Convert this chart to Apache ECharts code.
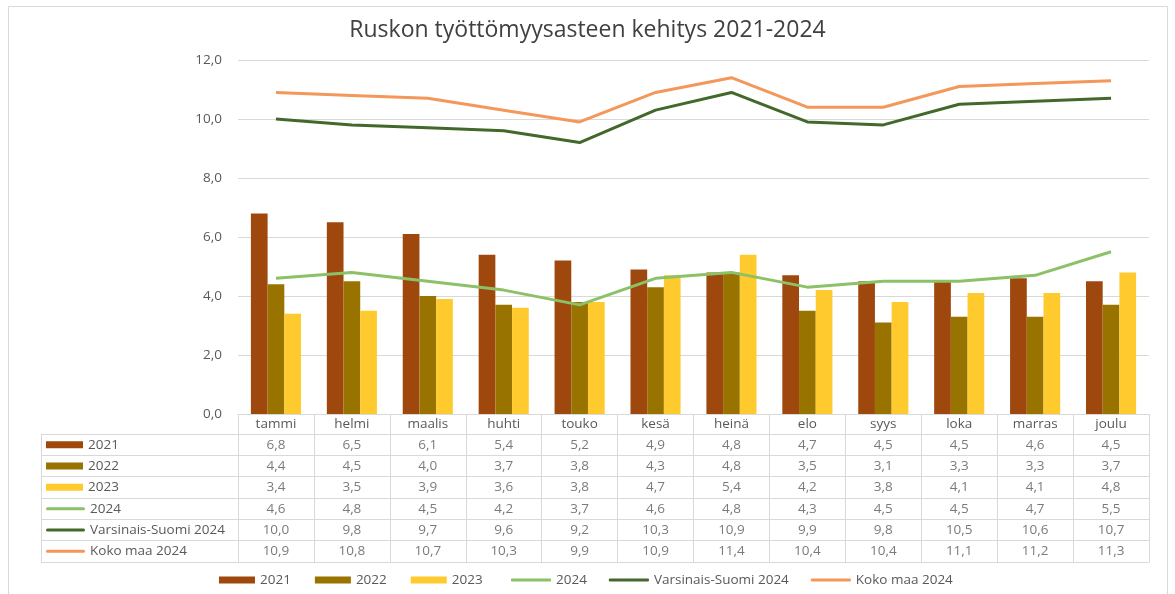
<!DOCTYPE html>
<html>
<head>
<meta charset="utf-8">
<script src="https://cdn.jsdelivr.net/npm/echarts@6/dist/echarts.min.js"></script>
<style>
  html, body { margin: 0; padding: 0; background: #fff; }
  #chart { width: 1175px; height: 594px; }
</style>
</head>
<body>
<div id="chart"></div>
<script>
// kuukaudet
const months = ['tammi', 'helmi', 'maalis', 'huhti', 'touko', 'kesä', 'heinä', 'elo', 'syys', 'loka', 'marras', 'joulu'];

const v2021 = [6.8, 6.5, 6.1, 5.4, 5.2, 4.9, 4.8, 4.7, 4.5, 4.5, 4.6, 4.5];
const v2022 = [4.4, 4.5, 4.0, 3.7, 3.8, 4.3, 4.8, 3.5, 3.1, 3.3, 3.3, 3.7];
const v2023 = [3.4, 3.5, 3.9, 3.6, 3.8, 4.7, 5.4, 4.2, 3.8, 4.1, 4.1, 4.8];
const v2024 = [4.6, 4.8, 4.5, 4.2, 3.7, 4.6, 4.8, 4.3, 4.5, 4.5, 4.7, 5.5];
const varsinaisSuomi = [10.0, 9.8, 9.7, 9.6, 9.2, 10.3, 10.9, 9.9, 9.8, 10.5, 10.6, 10.7];
const kokoMaa = [10.9, 10.8, 10.7, 10.3, 9.9, 10.9, 11.4, 10.4, 10.4, 11.1, 11.2, 11.3];

const rowNames = ['2021', '2022', '2023', '2024', 'Varsinais-Suomi 2024', 'Koko maa 2024'];
const colors = ['#9e480e', '#997300', '#ffca2e', '#8cc168', '#43682b', '#f4975a'];

const FONT = 'Open Sans';
const GRAY = '#595959';
const LINE = '#d9d9d9';
const FS = 13.5;

const fmt = (v) => v.toFixed(1).replace('.', ',');

// taulukon solut
const rows = [v2021, v2022, v2023, v2024, varsinaisSuomi, kokoMaa];
const cells = [];
rows.forEach((arr, r) => {
  arr.forEach((v, i) => cells.push([i, r, v]));
});

// selitteet taulukon vasempaan sarakkeeseen
const rich = { t: { color: GRAY, fontSize: FS, fontFamily: FONT, padding: [0, 0, 0, 5] } };
rowNames.forEach((n, i) => {
  const isBar = i < 3;
  rich['k' + i] = {
    backgroundColor: colors[i],
    width: isBar ? 37 : 39,
    height: isBar ? 7 : 3,
    borderRadius: isBar ? 0 : 2
  };
});

const chart = echarts.init(document.getElementById('chart'));

const barSeries = (name, data, color) => ({
  name, type: 'bar', data,
  xAxisIndex: 0, yAxisIndex: 0,
  barGap: '0%', barCategoryGap: '34%',
  itemStyle: { color }
});
const lineSeries = (name, data, color) => ({
  name, type: 'line', data,
  xAxisIndex: 0, yAxisIndex: 0,
  symbol: 'none',
  lineStyle: { color, width: 3 },
  itemStyle: { color }
});

const legendText = { color: GRAY, fontSize: FS, fontFamily: FONT };

chart.setOption({
  animation: false,
  textStyle: { fontFamily: FONT },
  title: {
    text: 'Ruskon työttömyysasteen kehitys 2021-2024',
    left: 'center', top: 14,
    textStyle: { fontSize: 23, fontWeight: 'normal', color: '#404040', fontFamily: FONT }
  },
  graphic: [{
    type: 'rect',
    shape: { x: 8.5, y: 6.5, width: 1159, height: 600 },
    style: { fill: 'none', stroke: '#d9d9d9', lineWidth: 1 },
    silent: true
  }],
  legend: [{
    top: 573, left: 219, padding: 0,
    icon: 'rect',
    itemWidth: 36, itemHeight: 7, itemGap: 24,
    textStyle: legendText,
    data: ['2021', '2022', '2023']
  }, {
    top: 573, left: 511, padding: 0,
    icon: 'roundRect',
    itemWidth: 40, itemHeight: 3, itemGap: 22,
    textStyle: legendText,
    data: ['2024', 'Varsinais-Suomi 2024', 'Koko maa 2024']
  }],
  grid: [
    { left: 238, right: 26, top: 60, height: 354 },
    { left: 238, right: 26, top: 434, height: 128 }
  ],
  xAxis: [{
    gridIndex: 0, type: 'category', data: months,
    axisLine: { lineStyle: { color: LINE } },
    axisTick: { show: true, length: 20, lineStyle: { color: LINE } },
    axisLabel: { color: GRAY, fontSize: FS, margin: 3, fontFamily: FONT }
  }, {
    gridIndex: 1, type: 'category', data: months,
    axisLine: { show: true, lineStyle: { color: LINE } },
    axisTick: { show: false },
    axisLabel: { show: false },
    splitLine: { show: true, lineStyle: { color: LINE } }
  }],
  yAxis: [{
    gridIndex: 0, type: 'value', min: 0, max: 12, interval: 2,
    axisLine: { show: false }, axisTick: { show: false },
    splitLine: { lineStyle: { color: LINE } },
    axisLabel: { color: GRAY, fontSize: FS, margin: 16, formatter: fmt, fontFamily: FONT }
  }, {
    gridIndex: 1, type: 'category', data: rowNames, inverse: true,
    offset: 197,
    axisLine: { show: true, lineStyle: { color: LINE } },
    axisTick: { show: true, inside: true, length: 197, lineStyle: { color: LINE } },
    splitLine: { show: true, lineStyle: { color: LINE } },
    axisLabel: {
      align: 'left', margin: -5,
      formatter: (v, i) => '{k' + i + '|}{t|' + v + '}',
      rich
    }
  }],
  series: [
    barSeries('2021', v2021, colors[0]),
    barSeries('2022', v2022, colors[1]),
    barSeries('2023', v2023, colors[2]),
    lineSeries('2024', v2024, colors[3]),
    lineSeries('Varsinais-Suomi 2024', varsinaisSuomi, colors[4]),
    lineSeries('Koko maa 2024', kokoMaa, colors[5]),
    {
      name: 'taulukko', type: 'scatter',
      xAxisIndex: 1, yAxisIndex: 1,
      symbolSize: 0, silent: true,
      data: cells,
      label: {
        show: true, position: 'inside',
        color: GRAY, fontSize: FS, fontFamily: FONT,
        formatter: (p) => fmt(p.value[2])
      }
    }
  ]
});
</script>
</body>
</html>
